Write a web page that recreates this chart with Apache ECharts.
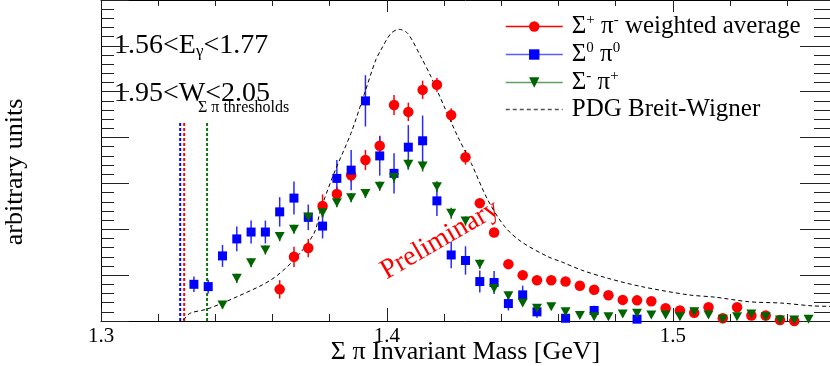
<!DOCTYPE html>
<html>
<head>
<meta charset="utf-8">
<script src="https://cdn.jsdelivr.net/npm/echarts@6/dist/echarts.min.js"></script>
<style>
  html, body { margin: 0; padding: 0; background: #fff; }
  #chart { width: 830px; height: 366px; }
</style>
</head>
<body>
<div id="chart"></div>
<script>
// Sigma+ pi- weighted average (red circles)
const redX = [1.3625, 1.3675, 1.3725, 1.3775, 1.3825, 1.3875, 1.3925, 1.3975, 1.4025, 1.4075,
  1.4125, 1.4175, 1.4225, 1.4275, 1.4325, 1.4375, 1.4425, 1.4475, 1.4525, 1.4575,
  1.4625, 1.4675, 1.4725, 1.4775, 1.4825, 1.4875, 1.4925, 1.4975, 1.5025, 1.5075,
  1.5125, 1.5175, 1.5225, 1.5275, 1.5325, 1.5375, 1.5425]
const redY = [0.69, 1.40, 1.59, 2.51, 2.77, 3.18, 3.51, 3.82, 4.71, 4.56,
  5.04, 5.15, 4.49, 3.57, 2.57, 1.93, 1.24, 1.00, 0.89, 0.89,
  0.86, 0.77, 0.68, 0.56, 0.46, 0.45, 0.43, 0.28, 0.23, 0.18,
  0.30, 0.06, 0.30, 0.12, 0.12, 0.02, 0.00]
const redErr = [0.20, 0.22, 0.20, 0.25, 0.16, 0.15, 0.22, 0.22, 0.22, 0.20,
  0.20, 0.15, 0.15, 0.16, 0.10, 0.07, 0.07, 0.06, 0.06, 0.06,
  0.06, 0.06, 0.06, 0.06, 0.06, 0.06, 0.06, 0.06, 0.06, 0.06,
  0.06, 0.06, 0.06, 0.06, 0.06, 0.06, 0.06]

// Sigma0 pi0 (blue squares)
const blueX = [1.3325, 1.3375, 1.3425, 1.3475, 1.3525, 1.3575, 1.3625, 1.3675, 1.3725, 1.3775,
  1.3825, 1.3875, 1.3925, 1.3975, 1.4025, 1.4075, 1.4125, 1.4175, 1.4225, 1.4275,
  1.4325, 1.4375, 1.4425, 1.4475, 1.4525, 1.4625, 1.4725, 1.4875]
const blueY = [0.80, 0.75, 1.42, 1.79, 1.94, 1.94, 2.38, 2.68, 2.26, 2.07,
  3.11, 3.29, 4.80, 3.60, 3.22, 3.79, 3.93, 2.62, 1.44, 1.32,
  0.86, 0.84, 0.38, 0.57, 0.20, 0.06, 0.23, 0.04]
const blueErr = [0.17, 0.15, 0.24, 0.27, 0.25, 0.25, 0.32, 0.36, 0.28, 0.27,
  0.40, 0.44, 0.56, 0.43, 0.44, 0.48, 0.55, 0.33, 0.29, 0.31,
  0.24, 0.25, 0.15, 0.20, 0.13, 0.10, 0.10, 0.10]

// Sigma- pi+ (green triangles)
const greenX = [1.3425, 1.3475, 1.3525, 1.3575, 1.3625, 1.3675, 1.3725, 1.3775, 1.3825, 1.3875,
  1.3925, 1.3975, 1.4025, 1.4075, 1.4125, 1.4175, 1.4225, 1.4275, 1.4325, 1.4375,
  1.4425, 1.4475, 1.4525, 1.4575, 1.4625, 1.4675, 1.4725, 1.4775, 1.4825, 1.4875,
  1.4925, 1.4975, 1.5025, 1.5075, 1.5125, 1.5175, 1.5225, 1.5275, 1.5325, 1.5375,
  1.5425, 1.5475]
const greenY = [0.35, 0.93, 1.27, 1.55, 1.84, 2.00, 2.27, 2.36, 2.58, 2.69,
  2.78, 2.94, 3.13, 3.42, 3.38, 2.93, 2.35, 2.18, 1.24, 0.71,
  0.55, 0.39, 0.28, 0.31, 0.20, 0.12, 0.09, 0.09, 0.15, 0.17,
  0.13, 0.13, 0.09, 0.20, 0.13, 0.04, 0.09, 0.15, 0.09, 0.02,
  0.02, 0.04]
const greenErr = [0.08, 0.10, 0.10, 0.10, 0.10, 0.10, 0.10, 0.10, 0.10, 0.10,
  0.10, 0.10, 0.12, 0.12, 0.12, 0.12, 0.12, 0.10, 0.10, 0.08,
  0.08, 0.06, 0.06, 0.06, 0.06, 0.06, 0.06, 0.06, 0.06, 0.06,
  0.06, 0.06, 0.06, 0.06, 0.06, 0.06, 0.06, 0.06, 0.06, 0.06,
  0.06, 0.06]

// PDG Breit-Wigner curve
const bwX = [1.3288, 1.3312, 1.3371, 1.3476, 1.3593, 1.3675, 1.3745, 1.3768, 1.3815, 1.3874,
  1.3920, 1.3961, 1.3979, 1.4014, 1.4043, 1.4073, 1.4119, 1.4154, 1.4201, 1.4248,
  1.4295, 1.4353, 1.4412, 1.4470, 1.4564, 1.4611, 1.4681, 1.4774, 1.4891, 1.5055,
  1.5148, 1.5266, 1.5382, 1.5488, 1.5554]
const bwY = [0.02, 0.17, 0.26, 0.53, 0.89, 1.33, 1.91, 2.42, 3.22, 4.09,
  4.93, 5.69, 5.91, 6.27, 6.36, 6.27, 5.76, 5.33, 4.67, 4.02,
  3.44, 2.64, 2.06, 1.73, 1.40, 1.29, 1.11, 0.93, 0.75, 0.57,
  0.52, 0.42, 0.39, 0.33, 0.32]

// thresholds: Sigma0 pi0, Sigma+ pi-, Sigma- pi+
const thresholdX = [1.3277, 1.3291, 1.3371]
const thresholdColors = ['#0000ff', '#ff0000', '#0a7a0a']
const thresholdTop = 4.36

const xLabels = ['1.3', '1.4', '1.5']

const serif = 'Liberation Serif'
const legendText = {
    sp: '{b|Σ}{p|+}{b| π}{p|-}{b| weighted average}',
    s0: '{b|Σ}{p|0}{b| π}{p|0}',
    sm: '{b|Σ}{p|-}{b| π}{p|+}',
    bw: '{b|PDG Breit-Wigner}'
}

function pairs(xs, ys) {
    return xs.map((x, i) => [x, ys[i]])
}

function errorBars(xs, ys, es, color) {
    return {
        type: 'custom',
        silent: true,
        z: 2,
        clip: true,
        renderItem: function (params, api) {
            const x = api.value(0), y = api.value(1), e = api.value(2)
            const p1 = api.coord([x, y - e])
            const p2 = api.coord([x, y + e])
            return {
                type: 'line',
                shape: {x1: p1[0], y1: p1[1], x2: p2[0], y2: p2[1]},
                style: {stroke: color, lineWidth: 1.5}
            }
        },
        data: xs.map((x, i) => [x, ys[i], es[i]])
    }
}

function xAxisOf(position, interval, len, extra) {
    return Object.assign({
        type: 'value',
        position: position,
        min: 1.3,
        max: 1.555,
        interval: interval,
        axisLine: {show: true, lineStyle: {color: '#000', width: 1}},
        axisTick: {show: true, inside: true, length: len, lineStyle: {color: '#222', width: 1}},
        axisLabel: {show: false},
        splitLine: {show: false}
    }, extra || {})
}

const chart = echarts.init(document.getElementById('chart'))

const series = [
    errorBars(redX, redY, redErr, '#ff0000'),
    errorBars(blueX, blueY, blueErr, '#2a2aff'),
    errorBars(greenX, greenY, greenErr, '#0a6a0a'),
    {
        name: 'sp', type: 'line', data: pairs(redX, redY), z: 4,
        symbol: 'circle', symbolSize: 10.5, showSymbol: true,
        itemStyle: {color: '#ff0000'}, lineStyle: {opacity: 0, color: '#ff0000'}
    },
    {
        name: 's0', type: 'line', data: pairs(blueX, blueY), z: 4,
        symbol: 'rect', symbolSize: 9, showSymbol: true,
        itemStyle: {color: '#0000ff'}, lineStyle: {opacity: 0, color: '#5b5bff'}
    },
    {
        name: 'sm', type: 'line', data: pairs(greenX, greenY), z: 4,
        symbol: 'triangle', symbolSize: [10, 9], symbolRotate: 180, showSymbol: true,
        itemStyle: {color: '#006400'}, lineStyle: {opacity: 0, color: '#5f9f5f'}
    },
    {
        name: 'bw', type: 'line', data: pairs(bwX, bwY), z: 3,
        symbol: 'none', smooth: 0.3,
        itemStyle: {color: '#000'},
        lineStyle: {color: '#000', width: 1, type: [4, 3]}
    }
]

thresholdX.forEach((x, i) => {
    series.push({
        type: 'line', z: 1, symbol: 'none', silent: true,
        data: [[x, 0], [x, thresholdTop]],
        lineStyle: {color: thresholdColors[i], width: 2, type: [3, 2]}
    })
})

chart.setOption({
    animation: false,
    backgroundColor: '#fff',
    textStyle: {fontFamily: serif},
    grid: {left: 101, right: 0, top: 0, bottom: 45, containLabel: false, outerBoundsMode: 'none'},
    legend: {
        orient: 'vertical',
        left: 500,
        top: 8,
        itemWidth: 57,
        itemHeight: 13,
        itemGap: 2,
        selectedMode: false,
        data: [
            {name: 'sp', lineStyle: {opacity: 1, width: 1.5, color: '#ff0000'}},
            {name: 's0', lineStyle: {opacity: 1, width: 1.5, color: '#5b5bff'}},
            {name: 'sm', lineStyle: {opacity: 1, width: 1.5, color: '#5f9f5f'}},
            {name: 'bw', itemStyle: {opacity: 0},
                lineStyle: {opacity: 1, width: 1.5, color: '#555', type: [4, 3]}}
        ],
        formatter: name => legendText[name],
        textStyle: {
            padding: [0, 0, 0, 4],
            rich: {
                b: {fontSize: 25, fontFamily: serif, color: '#000', lineHeight: 27},
                p: {fontSize: 15, fontFamily: serif, color: '#000', verticalAlign: 'top', lineHeight: 27}
            }
        }
    },
    xAxis: [
        xAxisOf('bottom', 0.02, 7, {
            name: 'Σ π Invariant Mass [GeV]',
            nameLocation: 'middle',
            nameGap: 18,
            nameMoveOverlap: false,
            nameTextStyle: {fontSize: 26, color: '#000', fontFamily: serif, verticalAlign: 'top'},
            axisLabel: {
                show: true, fontSize: 21, color: '#000', fontFamily: serif, margin: 5,
                showMaxLabel: false,
                formatter: v => xLabels.find(l => Math.abs(parseFloat(l) - v) < 1e-6) || ''
            }
        }),
        xAxisOf('bottom', 0.1, 13, {axisLine: {show: false}}),
        xAxisOf('top', 0.02, 6),
        xAxisOf('top', 0.1, 12, {axisLine: {show: false}})
    ],
    yAxis: [
        {
            type: 'value', position: 'left', min: 0, max: 7, interval: 1,
            axisLine: {show: true, lineStyle: {color: '#000', width: 1}},
            axisTick: {show: true, inside: true, length: 28, lineStyle: {color: '#222'}},
            minorTick: {show: true, splitNumber: 5, length: 13, lineStyle: {color: '#222'}},
            axisLabel: {show: false},
            splitLine: {show: false}
        },
        {
            type: 'value', position: 'right', min: 0, max: 7, interval: 1,
            axisLine: {show: true, lineStyle: {color: '#000', width: 1}},
            axisTick: {show: true, inside: true, length: 30, lineStyle: {color: '#222'}},
            minorTick: {show: true, splitNumber: 5, length: 16, lineStyle: {color: '#222'}},
            axisLabel: {show: false},
            splitLine: {show: false}
        }
    ],
    graphic: [
        {
            type: 'text', x: 15, y: 172, rotation: Math.PI / 2,
            style: {text: 'arbitrary units', font: '26px "Liberation Serif"', fill: '#000',
                textAlign: 'center', textVerticalAlign: 'middle'}
        },
        {
            type: 'text', x: 114, y: 46,
            style: {
                text: '{a|1.56<E}{s|γ}{a|<1.77}',
                textVerticalAlign: 'middle',
                rich: {
                    a: {fontSize: 28, fontFamily: serif, fill: '#000'},
                    s: {fontSize: 17, fontFamily: serif, fill: '#000', verticalAlign: 'bottom', padding: [9, 0, 0, 0]}
                }
            }
        },
        {
            type: 'text', x: 114, y: 94,
            style: {text: '1.95<W<2.05', font: '28px "Liberation Serif"', fill: '#000', textVerticalAlign: 'middle'}
        },
        {
            type: 'text', x: 198, y: 108,
            style: {text: 'Σ π thresholds', font: '16px "Liberation Serif"', fill: '#000', textVerticalAlign: 'middle'}
        },
        {
            type: 'text', x: 440, y: 240, rotation: Math.PI / 6,
            style: {text: 'Preliminary', font: '28px "Liberation Serif"', fill: '#ff0000',
                textAlign: 'center', textVerticalAlign: 'middle'}
        }
    ],
    series: series
})
</script>
</body>
</html>
